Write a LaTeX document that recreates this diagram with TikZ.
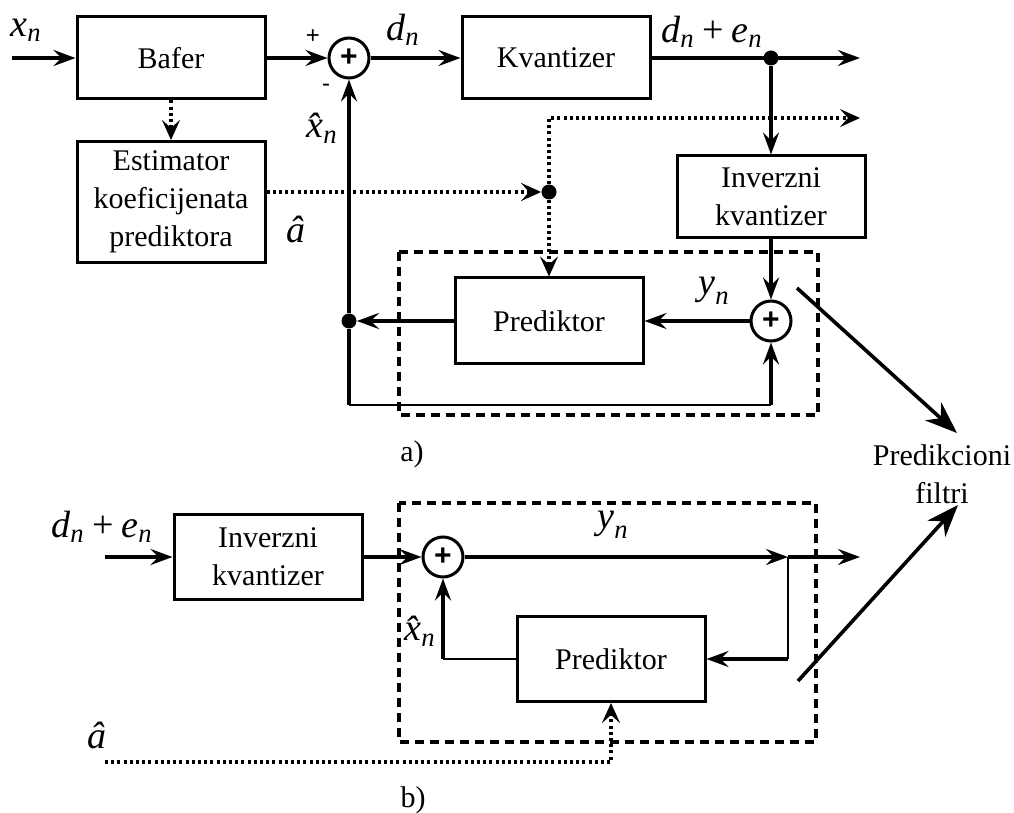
\documentclass[tikz,border=0pt]{standalone}
\usepackage{amsmath}
\usepackage{fontspec}
\setmainfont{Liberation Serif}
\newfontfamily\plusfont{Liberation Sans}
\usetikzlibrary{arrows.meta}

\begin{document}
\begin{tikzpicture}
[
x=0.5pt, y=-0.5pt,
blok/.style={rectangle, draw=black, line width=1.5pt, minimum width=94pt, minimum height=41pt, inner sep=0pt, align=center, font=\fontsize{15}{19}\selectfont},
zbir/.style={circle, draw=black, line width=1.5pt, minimum size=20pt, inner sep=0pt, font=\plusfont\bfseries\fontsize{15}{15}\selectfont},
tok/.style={line width=2.2pt, -{Stealth[length=11pt, width=8pt, inset=4pt]}},
tanka/.style={line width=1.3pt},
tacke/.style={line width=1.7pt, line cap=butt, dash pattern=on 1.5pt off 1.6pt, -{Stealth[length=10pt, width=9pt, inset=4pt]}},
okvir/.style={line width=1.6pt, dash pattern=on 4.5pt off 3pt},
cvor/.style={circle, fill=black, minimum size=7.5pt, inner sep=0pt},
oznaka/.style={inner sep=0pt, font=\fontsize{19}{22}\selectfont},
tekst/.style={inner sep=0pt, align=center, font=\fontsize{15}{19}\selectfont},
znak/.style={inner sep=0pt, font=\plusfont\fontsize{12}{12}\selectfont},
filtar/.style={line width=1.8pt, -{Stealth[length=16pt, width=12pt, inset=5pt]}},
]
\useasboundingbox (0,0) rectangle (1014,813);
%
% a) koder
\draw [okvir] (399,252) rectangle (818,415);

\node [blok]  (bafer)   at (171, 58)  {Bafer};
\node [blok, minimum height=60.5pt]  (estim)   at (171,202)  {Estimator\\koeficijenata\\prediktora};
\node [zbir]  (sum1)    at (349, 58)  {+};
\node [blok]  (kvant)   at (556, 58)  {Kvantizer};
\node [blok]  (inv1)    at (771,197)  {Inverzni\\kvantizer};
\node [zbir]  (sum2)    at (771,321)  {+};
\node [blok, minimum height=43pt]  (pred1)   at (549,321)  {Prediktor};

\coordinate (xin)  at ( 12, 58);
\coordinate (out1) at (860, 58);
\coordinate (aout) at (860,118);
\coordinate (c3)   at (349,405);
\coordinate (c4)   at (771,405);
\node [cvor]  (c1)  at (771, 58)  {};
\node [cvor]  (cv)  at (549,192)  {};
\node [cvor]  (c2)  at (349,321)  {};
%
\draw [tok]  (xin) -- (bafer.west);
\draw [tok]  (bafer.east) -- (sum1.west);
\draw [tok]  (sum1.east) -- (kvant.west);
\draw [tok]  (kvant.east) -- (out1);
\draw [tok]  (c1) -- (inv1.north);
\draw [tok]  (inv1.south) -- (sum2.north);
\draw [tok]  (sum2.west) -- (pred1.east);
\draw [tok]  (pred1.west) -- (c2);
\draw [tok]  (c2) -- (sum1.south);
\draw [line width=2.2pt]  (c2) -- (c3);
\draw [tanka]  (c3) -- (c4);
\draw [tok]  (c4) -- (sum2.south);
%
\draw [tacke]  (bafer.south) -- (estim.north);
\draw [tacke]  (estim.east |- cv) -- (cv);
\draw [tacke]  (cv) |- (aout);
\draw [tacke]  (cv) -- (pred1.north);

\node [oznaka]  (lx)   at ( 26, 30)  {$\textit{x}_{\textit{n}}$};
\node [znak]    (lp)   at (313, 37)  {+};
\node [znak]    (lm)   at (326, 88)  {-};
\node [oznaka]  (ld)   at (403, 30)  {$\textit{d}_{\textit{n}}$};
\node [oznaka]  (ld2)  at (712, 32)  {$\textit{d}_{\textit{n}}\mathbin{\textrm{+}}\textit{e}_{\textit{n}}$};
\node [oznaka]  (lxh)  at (322,128)  {$\textit{x̂}_{\textit{n}}$};
\node [oznaka]  (la)   at (296,229)  {\textit{â}};
\node [oznaka]  (ly)   at (714,291)  {$\textit{y}_{\textit{n}}$};
\node [tekst]   (lA)   at (412,454)  {a)};

% b) dekoder
\draw [okvir] (399,503) rectangle (816,742);

\node [blok, minimum height=42.5pt]  (inv2)   at (268,557)  {Inverzni\\kvantizer};
\node [zbir]  (sum3)    at (443,557)  {+};
\node [blok, minimum height=42.5pt]  (pred2)   at (611,659)  {Prediktor};

\coordinate (din)  at (105,557);
\coordinate (c5)   at (788,557);
\coordinate (out2) at (860,557);
\coordinate (c6)   at (788,659);
\coordinate (c7)   at (443,659);
\coordinate (c8)   at (105,762);
%
\draw [tok]  (din) -- (inv2.west);
\draw [tok]  (inv2.east) -- (sum3.west);
\draw [tok]  (sum3.east) -- (c5);
\draw [tok]  (c5) -- (out2);
\draw [tanka]  (c5) -- (c6);
\draw [tok]  (c6) -- (pred2.east);
\draw [tanka]  (pred2.west) -- (c7);
\draw [tok]  (c7) -- (sum3.south);
\draw [tacke]  (c8) -| (pred2.south);

\node [oznaka]  (lde2) at (102,527)  {$\textit{d}_{\textit{n}}\mathbin{\textrm{+}}\textit{e}_{\textit{n}}$};
\node [oznaka]  (ly2)  at (613,525)  {$\textit{y}_{\textit{n}}$};
\node [oznaka]  (lxh2) at (420,631)  {$\textit{x̂}_{\textit{n}}$};
\node [oznaka]  (la2)  at ( 97,735)  {\textit{â}};
\node [tekst]   (lB)   at (413,800)  {b)};

% prediktivni filtri
\coordinate (f1) at (797,288);
\coordinate (f2) at (957,433);
\coordinate (f3) at (798,681);
\coordinate (f4) at (958,505);
\draw [filtar]  (f1) -- (f2);
\draw [filtar]  (f3) -- (f4);
\node [tekst]   (lf)   at (942,474)  {Predikcioni\\filtri};
%
\end{tikzpicture}
\end{document}
